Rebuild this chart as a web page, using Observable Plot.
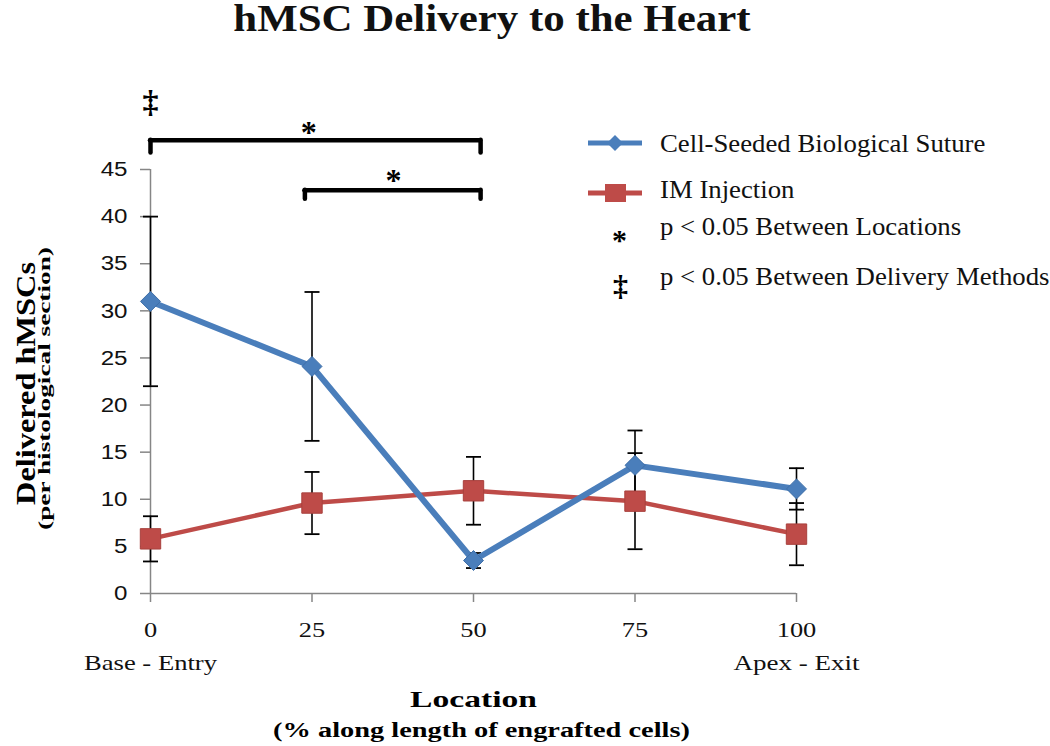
<!DOCTYPE html>
<html><head><meta charset="utf-8">
<script src="https://cdn.jsdelivr.net/npm/d3@7"></script>
<script src="https://cdn.jsdelivr.net/npm/@observablehq/plot@0.6"></script>
<style>
html,body{margin:0;padding:0;background:#fff}
body{width:1050px;height:746px;overflow:hidden;position:relative;font-family:"Liberation Serif",serif;color:#111}
#title{height:50px;font:bold 37px "Liberation Serif",serif;line-height:37px;text-align:center;padding-right:67px;white-space:nowrap}
#title span{display:inline-block;transform:scaleX(1.16)}
#chart{height:696px}
.leg{position:absolute;font:25px "Liberation Serif",serif;line-height:25px;white-space:nowrap;color:#111}
.leg .t{display:inline-block;transform:scaleX(1.07);transform-origin:left center}
.sym{position:absolute;font:bold 30px "Liberation Serif",serif;line-height:30px;color:#000}
</style></head><body>
<div id="title"><span>hMSC Delivery to the Heart</span></div>
<div id="chart"></div>
<div id="legend"></div>
<script>
// ---- data ----
const locations = [0, 25, 50, 75, 100];
const sutureMean = [31.0, 24.1, 3.5, 13.6, 11.1];
const sutureErr = [9.0, 7.9, 0.8, 3.7, 2.2];
const injectionMean = [5.8, 9.6, 10.9, 9.8, 6.3];
const injectionErr = [2.4, 3.3, 3.6, 5.1, 3.3];
const seriesNames = ["Cell-Seeded Biological Suture", "IM Injection"];
const seriesColors = ["#4A7EBB", "#BE4B48"];
const xTicks = [0, 25, 50, 75, 100];
const yTicks = [0, 5, 10, 15, 20, 25, 30, 35, 40, 45];
const endLabels = ["Base - Entry", "Apex - Exit"];
const endLocations = [0, 100];
const locationComparisons = [{from: 0, to: 50}, {from: 25, to: 50}]; // p < 0.05 between locations
const methodDifferences = [0]; // p < 0.05 between delivery methods
const legendNotes = ["p < 0.05 Between Locations", "p < 0.05 Between Delivery Methods"];

// ---- build tables ----
const suture = locations.map((x, i) => ({x, mean: sutureMean[i], err: sutureErr[i], series: seriesNames[0]}));
const injection = locations.map((x, i) => ({x, mean: injectionMean[i], err: injectionErr[i], series: seriesNames[1]}));
const all = [...injection, ...suture];
const caps = all.flatMap(d => [{x: d.x, y: d.mean - d.err}, {x: d.x, y: d.mean + d.err}]);

// bracket layout (annotation levels above the data)
const levels = [48.1, 42.8], drops = [1.35, 0.95], pad = 1.1;
const brackets = locationComparisons.map((c, i) => ({
  x1: c.from === 0 ? c.from : c.from - pad, x2: c.to + pad, y: levels[i], yd: levels[i] - drops[i],
  lx: c.from === 0 ? 24.5 : 37.6, ly: levels[i] + (i === 0 ? 1.0 : 1.2)
}));
const bracketDrops = brackets.flatMap(b => [{x: b.x1, y1: b.y, y2: b.yd}, {x: b.x2, y1: b.y, y2: b.yd}]);
const daggers = methodDifferences.map(x => ({x, y: 52.0}));

const capSymbol = {draw(ctx, size) { const w = Math.sqrt(size / Math.PI); ctx.moveTo(-w, 0); ctx.lineTo(w, 0); }};

const plot = Plot.plot({
  width: 1050, height: 696,
  marginLeft: 150, marginRight: 254, marginTop: 119, marginBottom: 153,
  style: {background: "#fff", color: "#111", overflow: "visible"},
  x: {domain: [0, 100], ticks: xTicks},
  y: {domain: [0, 45], ticks: yTicks},
  marks: [
    Plot.axisY(yTicks, {tickSize: 10, tickPadding: 13, fontSize: 21, fontFamily: "Liberation Sans", stroke: "#868686", strokeWidth: 1.5, label: null}),
    Plot.axisX(xTicks, {tickSize: 9, tickPadding: 19, fontSize: 22, fontFamily: "Liberation Serif", stroke: "#868686", strokeWidth: 1.5, label: null}),
    Plot.ruleX([0], {stroke: "#868686", strokeWidth: 1.5}),
    Plot.ruleY([0], {stroke: "#868686", strokeWidth: 1.5}),
    // error bars
    Plot.ruleX(all, {x: "x", y1: d => d.mean - d.err, y2: d => d.mean + d.err, stroke: "#000", strokeWidth: 1.6}),
    Plot.dot(caps, {x: "x", y: "y", symbol: capSymbol, r: 7.5, stroke: "#000", strokeWidth: 1.8, fill: "none"}),
    // series
    Plot.line(injection, {x: "x", y: "mean", stroke: seriesColors[1], strokeWidth: 4.5}),
    Plot.dot(injection, {x: "x", y: "mean", symbol: "square", r: 11.5, fill: seriesColors[1], stroke: "#A8403D", strokeWidth: 1}),
    Plot.line(suture, {x: "x", y: "mean", stroke: seriesColors[0], strokeWidth: 6}),
    Plot.dot(suture, {x: "x", y: "mean", symbol: "diamond2", r: 9, fill: seriesColors[0], stroke: "#3F6FA8", strokeWidth: 1}),
    // significance brackets
    Plot.ruleY(brackets, {y: "y", x1: "x1", x2: "x2", stroke: "#000", strokeWidth: 4.5, strokeLinecap: "round"}),
    Plot.ruleX(bracketDrops, {x: "x", y1: "y1", y2: "y2", stroke: "#000", strokeWidth: 4.5, strokeLinecap: "round"}),
    Plot.text(brackets, {x: "lx", y: "ly", text: () => "*", fontSize: 32, fontWeight: "bold", fontFamily: "Liberation Serif", fill: "#000", lineAnchor: "middle", dy: 2}),
    Plot.text(daggers, {x: "x", y: "y", text: () => "\u2021", fontSize: 32, fontWeight: "bold", fontFamily: "Liberation Serif", fill: "#000", lineAnchor: "middle", dy: -2}),
    // end labels
    Plot.text(endLocations, {x: d => d, text: (d, i) => endLabels[i], frameAnchor: "bottom", lineAnchor: "middle", textAnchor: "middle", dy: 69, fontSize: 22, fontFamily: "Liberation Serif", fill: "#111"}),
    // axis titles
    Plot.text(["Location"], {frameAnchor: "bottom", lineAnchor: "middle", textAnchor: "middle", dy: 106, fontSize: 24, fontWeight: "bold", fontFamily: "Liberation Serif", fill: "#000"}),
    Plot.text(["(% along length of engrafted cells)"], {frameAnchor: "bottom", lineAnchor: "middle", textAnchor: "middle", dx: 8, dy: 137, fontSize: 21, fontWeight: "bold", fontFamily: "Liberation Serif", fill: "#000"}),
    Plot.text(["Delivered hMSCs"], {frameAnchor: "left", rotate: -90, lineAnchor: "middle", textAnchor: "middle", dx: -124, dy: 2, fontSize: 27, fontWeight: "bold", fontFamily: "Liberation Serif", fill: "#000"}),
    Plot.text(["(per histological section)"], {frameAnchor: "left", rotate: -90, lineAnchor: "middle", textAnchor: "middle", dx: -106, dy: 7, fontSize: 17, fontWeight: "bold", fontFamily: "Liberation Serif", fill: "#000"})
  ]
});
document.getElementById("chart").appendChild(plot);

// widen text the way the original rendering does
const targetWidths = {
  "Location": 127, "(% along length of engrafted cells)": 417,
  "Delivered hMSCs": 243, "(per histological section)": 283,
  "Base - Entry": 133, "Apex - Exit": 126
};
function stretch(t, f) {
  const x = +t.getAttribute("x") || 0, y = +t.getAttribute("y") || 0;
  const tr = t.getAttribute("transform") || "";
  t.setAttribute("transform", `${tr} translate(${x},${y}) scale(${f},1) translate(${-x},${-y})`);
}
plot.querySelectorAll("text").forEach(t => {
  const s = t.textContent;
  const g = t.closest("g[aria-label]");
  const lab = g ? g.getAttribute("aria-label") : "";
  if (targetWidths[s]) {
    const w = t.getBBox().width;
    if (w > 0) stretch(t, targetWidths[s] / w);
  } else if (/y-axis tick label/.test(lab)) stretch(t, 1.15);
  else if (/x-axis tick label/.test(lab)) stretch(t, 1.2);
});

// legend
const legend = document.getElementById("legend");
const rows = [
  {baseline: 152, text: seriesNames[0]},
  {baseline: 198, text: seriesNames[1]},
  {baseline: 235, text: legendNotes[0]},
  {baseline: 285, text: legendNotes[1]}
];
rows.forEach(r => {
  const d = document.createElement("div");
  d.className = "leg";
  d.style.left = "660px";
  d.style.top = (r.baseline - 21) + "px";
  d.innerHTML = `<span class="t">${r.text.replace(/</g, "&lt;")}</span>`;
  legend.appendChild(d);
});
const sw = d3.create("svg").attr("width", 70).attr("height", 80)
  .style("position", "absolute").style("left", "580px").style("top", "125px");
sw.append("line").attr("x1", 8).attr("x2", 62).attr("y1", 18).attr("y2", 18).attr("stroke", seriesColors[0]).attr("stroke-width", 5);
sw.append("path").attr("d", "M35,10L43,18L35,26L27,18Z").attr("fill", seriesColors[0]);
sw.append("line").attr("x1", 8).attr("x2", 62).attr("y1", 68).attr("y2", 68).attr("stroke", seriesColors[1]).attr("stroke-width", 5);
sw.append("rect").attr("x", 25).attr("y", 59).attr("width", 21).attr("height", 18).attr("fill", seriesColors[1]);
legend.appendChild(sw.node());
[{ch: "*", x: 612, cy: 240}, {ch: "\u2021", x: 613, cy: 286}].forEach(s => {
  const d = document.createElement("div");
  d.className = "sym";
  d.textContent = s.ch;
  d.style.left = s.x + "px";
  d.style.top = (s.cy - 15) + "px";
  legend.appendChild(d);
});
</script>
</body></html>
